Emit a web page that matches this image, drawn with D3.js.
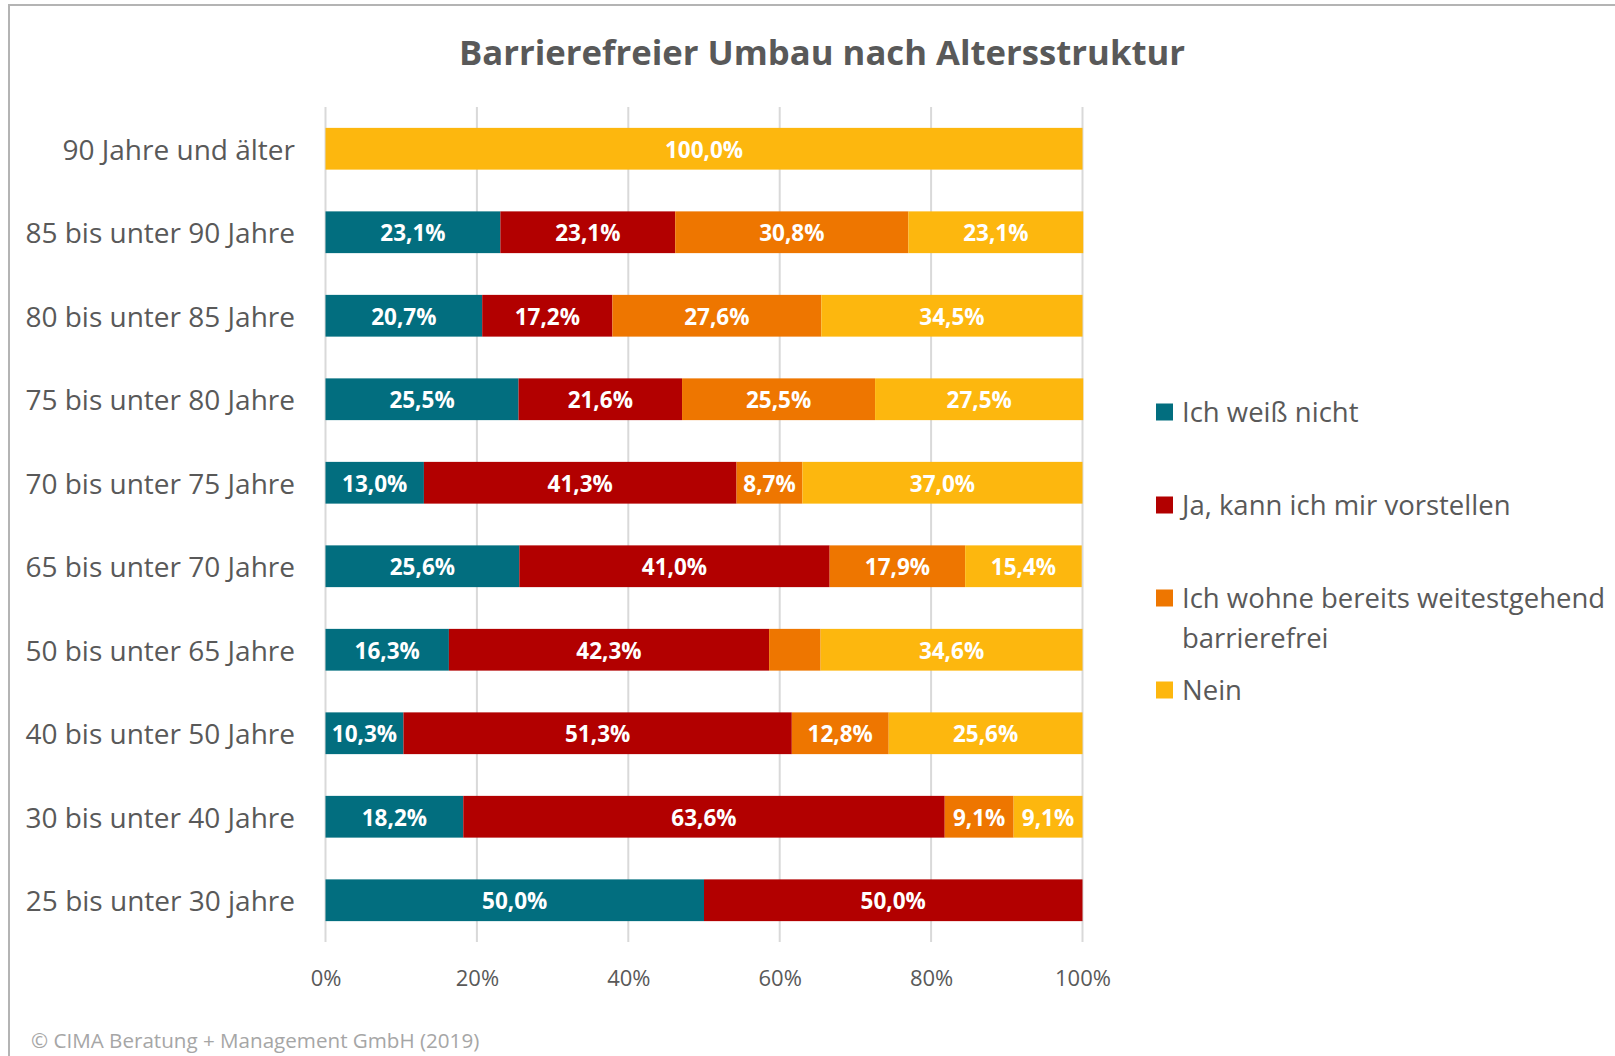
<!DOCTYPE html>
<html>
<head>
<meta charset="utf-8">
<script src="https://cdn.jsdelivr.net/npm/d3@7"></script>
<style>
  body { margin: 0; background: #fff; }
  text { font-family: "Open Sans", sans-serif; }
</style>
</head>
<body>
<div id="chart"></div>
<script>
// Chart size
const width = 1615,
  height = 1056

// Data
const categories = [
  '90 Jahre und älter',
  '85 bis unter 90 Jahre',
  '80 bis unter 85 Jahre',
  '75 bis unter 80 Jahre',
  '70 bis unter 75 Jahre',
  '65 bis unter 70 Jahre',
  '50 bis unter 65 Jahre',
  '40 bis unter 50 Jahre',
  '30 bis unter 40 Jahre',
  '25 bis unter 30 jahre'
]
const seriesNames = ['Ich weiß nicht', 'Ja, kann ich mir vorstellen', 'Ich wohne bereits weitestgehend barrierefrei', 'Nein']
const weissNicht = [0, 23.1, 20.7, 25.5, 13.0, 25.6, 16.3, 10.3, 18.2, 50.0]
const jaVorstellen = [0, 23.1, 17.2, 21.6, 41.3, 41.0, 42.3, 51.3, 63.6, 50.0]
const bereitsBarrierefrei = [0, 30.8, 27.6, 25.5, 8.7, 17.9, 6.8, 12.8, 9.1, 0]
const nein = [100.0, 23.1, 34.5, 27.5, 37.0, 15.4, 34.6, 25.6, 9.1, 0]
const ticks = [0, 20, 40, 60, 80, 100]
const colors = ['#026e7f', '#b20000', '#ee7600', '#fdb70e']

// table for the stack
const table = categories.map((c, i) => ({
  cat: c,
  s0: weissNicht[i],
  s1: jaVorstellen[i],
  s2: bereitsBarrierefrei[i],
  s3: nein[i]
}))
const keys = ['s0', 's1', 's2', 's3']

let svg = d3.select('#chart')
  .append('svg')
  .attr('width', width)
  .attr('height', height)

// frame lines (top + left) like the cropped original
svg.append('line')
  .attr('x1', 9).attr('x2', width).attr('y1', 5).attr('y2', 5)
  .attr('stroke', '#b4b4b4').attr('stroke-width', 2)
svg.append('line')
  .attr('x1', 9).attr('x2', 9).attr('y1', 4).attr('y2', height)
  .attr('stroke', '#b4b4b4').attr('stroke-width', 2)

// title
svg.append('text')
  .attr('x', 822)
  .attr('y', 65)
  .attr('text-anchor', 'middle')
  .style('font-size', '34.7px')
  .style('font-weight', 'bold')
  .style('fill', '#595959')
  .text('Barrierefreier Umbau nach Altersstruktur')

const xScale = d3.scaleLinear()
  .domain([0, 100])
  .range([325.5, 1082.5])

const yScale = d3.scaleBand()
  .domain(categories)
  .range([107, 942])
  .paddingInner(0.5)
  .paddingOuter(0.25)

// gridlines
svg.append('g')
  .selectAll('line')
  .data(ticks)
  .enter()
  .append('line')
  .attr('x1', d => xScale(d))
  .attr('x2', d => xScale(d))
  .attr('y1', 107)
  .attr('y2', 942)
  .attr('stroke', '#d9d9d9')
  .attr('stroke-width', 2)

// x axis labels
const xAxis = d3.axisBottom(xScale)
  .tickValues(ticks)
  .tickFormat(d => d + '%')
  .tickSize(0)
  .tickPadding(0)

let gx = svg.append('g')
  .attr('transform', 'translate(0,970)')
  .call(xAxis)
gx.select('.domain').remove()
gx.selectAll('text')
  .attr('dy', '0.71em')
  .style('font-family', '"Open Sans", sans-serif')
  .style('font-size', '22px')
  .style('fill', '#595959')

// y axis labels
const yAxis = d3.axisLeft(yScale)
  .tickSize(0)
  .tickPadding(0)

let gy = svg.append('g')
  .attr('transform', 'translate(295,2)')
  .call(yAxis)
gy.select('.domain').remove()
gy.selectAll('text')
  .style('font-family', '"Open Sans", sans-serif')
  .style('font-size', '28px')
  .style('fill', '#595959')

// stacked bars
const stacked = d3.stack().keys(keys)(table)

let layers = svg.selectAll('.layer')
  .data(stacked)
  .enter()
  .append('g')
  .attr('class', 'layer')
  .attr('fill', (d, i) => colors[i])

layers.selectAll('rect')
  .data(d => d)
  .enter()
  .append('rect')
  .attr('x', d => xScale(d[0]))
  .attr('y', d => yScale(d.data.cat))
  .attr('width', d => xScale(d[1]) - xScale(d[0]))
  .attr('height', yScale.bandwidth())

// value labels
layers.selectAll('text')
  .data(d => d.filter(v => xScale(v[1]) - xScale(v[0]) > 60))
  .enter()
  .append('text')
  .attr('x', d => (xScale(d[0]) + xScale(d[1])) / 2)
  .attr('y', d => yScale(d.data.cat) + yScale.bandwidth() / 2 + 1)
  .attr('dy', '0.36em')
  .attr('text-anchor', 'middle')
  .style('font-size', '22.5px')
  .style('font-weight', 'bold')
  .style('fill', '#fff')
  .text(d => (d[1] - d[0]).toFixed(1).replace('.', ',') + '%')

// legend
const legendY = [412, 505, 598, 690]
let legend = svg.append('g')
  .selectAll('g')
  .data(seriesNames)
  .enter()
  .append('g')
  .attr('transform', (d, i) => `translate(1156,${legendY[i]})`)

legend.append('rect')
  .attr('x', 0)
  .attr('y', -8.5)
  .attr('width', 17)
  .attr('height', 17)
  .attr('fill', (d, i) => colors[i])

legend.append('text')
  .attr('x', 26)
  .attr('y', 0)
  .style('font-size', '27.5px')
  .style('fill', '#595959')
  .each(function (d) {
    // wrap the long entry onto two lines
    const parts = d === seriesNames[2]
      ? ['Ich wohne bereits weitestgehend', 'barrierefrei']
      : [d]
    parts.forEach((p, j) => {
      d3.select(this).append('tspan')
        .attr('x', 26)
        .attr('dy', j === 0 ? '0.35em' : '40px')
        .text(p)
    })
  })

// source note
svg.append('text')
  .attr('x', 31)
  .attr('y', 1048)
  .style('font-size', '20.6px')
  .style('fill', '#a6a6a6')
  .text('© CIMA Beratung + Management GmbH (2019)')
</script>
</body>
</html>
